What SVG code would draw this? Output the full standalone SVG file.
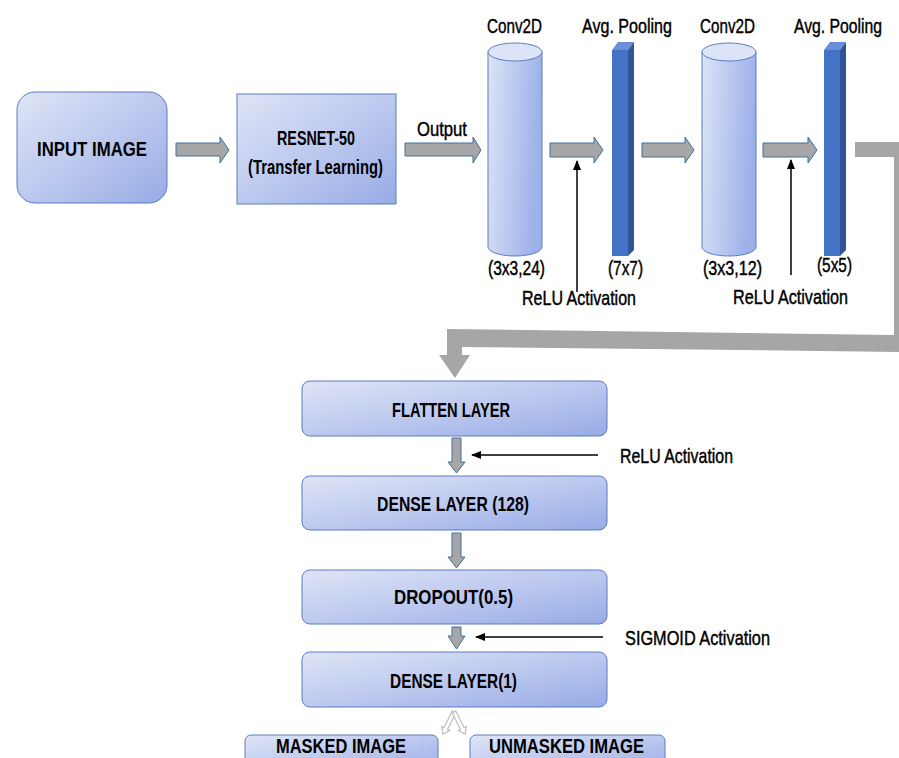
<svg xmlns="http://www.w3.org/2000/svg" width="899" height="758" viewBox="0 0 899 758">
<defs>
<linearGradient id="boxGrad" x1="0" y1="0" x2="1" y2="1">
<stop offset="0" stop-color="#dfe5f6"/>
<stop offset="0.5" stop-color="#bdc9ef"/>
<stop offset="1" stop-color="#97abe5"/>
</linearGradient>
<linearGradient id="cylGrad" x1="0" y1="0" x2="1" y2="0.2">
<stop offset="0" stop-color="#dde4f7"/>
<stop offset="1" stop-color="#9cb0e9"/>
</linearGradient>
<marker id="ah" markerUnits="userSpaceOnUse" markerWidth="10" markerHeight="8" refX="9" refY="4" orient="auto">
<path d="M0,0 L10,4 L0,8 Z" fill="#000"/>
</marker>
<style>
.box{fill:url(#boxGrad);stroke:#5b7cc2;stroke-width:1}
.cyl{fill:url(#cylGrad);stroke:#5b7cc2;stroke-width:1}
.cyltop{fill:#dde4f7;stroke:#5b7cc2;stroke-width:1}
.pf{fill:#4472c4}
.pt{fill:#6a8fd6}
.ps{fill:#2f5597}
.garr{fill:#a6a6a6;stroke:#41719c;stroke-width:1}
.big{fill:#a6a6a6}
.hol{fill:#fff;stroke:#bdbdbd;stroke-width:1.2}
.bl{stroke:#000;stroke-width:1.5;fill:none;marker-end:url(#ah)}
.lbl{font-family:"Liberation Sans",Arial,sans-serif;font-weight:bold;font-size:21px;fill:#000}
.ann{font-family:"Liberation Sans",Arial,sans-serif;font-size:21px;fill:#000;stroke:#000;stroke-width:0.45}
</style>
</defs>
<rect width="899" height="758" fill="#fff"/>

<g id="input-image">
<rect class="box" x="17" y="92" width="150" height="111" rx="18"/>
<text class="lbl" x="37" y="156" font-size="22" textLength="110" lengthAdjust="spacingAndGlyphs">INPUT IMAGE</text>
</g>

<g id="resnet">
<rect class="box" x="237" y="94" width="159" height="110"/>
<text class="lbl" x="277" y="145" font-size="20" textLength="78" lengthAdjust="spacingAndGlyphs">RESNET-50</text>
<text class="lbl" x="248" y="174" font-size="20" textLength="135" lengthAdjust="spacingAndGlyphs">(Transfer Learning)</text>
</g>

<g id="conv1">
<text class="ann" x="487" y="33" textLength="55" lengthAdjust="spacingAndGlyphs">Conv2D</text>
<path class="cyl" d="M488,52 L488,247 A27,9 0 0 0 542,247 L542,52 Z"/>
<ellipse class="cyltop" cx="515" cy="52" rx="27" ry="9"/>
<text class="ann" x="488" y="275" textLength="57" lengthAdjust="spacingAndGlyphs">(3x3,24)</text>
</g>

<g id="pool1">
<text class="ann" x="582" y="33" textLength="90" lengthAdjust="spacingAndGlyphs">Avg. Pooling</text>
<polygon class="pf" points="612,50 628,50 628,256 612,256"/>
<polygon class="pt" points="612,50 618,42 634,42 628,50"/>
<polygon class="ps" points="628,50 634,42 634,250 628,256"/>
<text class="ann" x="608" y="275" textLength="35" lengthAdjust="spacingAndGlyphs">(7x7)</text>
</g>

<g id="conv2">
<text class="ann" x="700" y="33" textLength="55" lengthAdjust="spacingAndGlyphs">Conv2D</text>
<path class="cyl" d="M702,52 L702,247 A27,9 0 0 0 756,247 L756,52 Z"/>
<ellipse class="cyltop" cx="729" cy="52" rx="27" ry="9"/>
<text class="ann" x="703" y="275" textLength="59" lengthAdjust="spacingAndGlyphs">(3x3,12)</text>
</g>

<g id="pool2">
<text class="ann" x="794" y="33" textLength="88" lengthAdjust="spacingAndGlyphs">Avg. Pooling</text>
<polygon class="pf" points="824,50 840,50 840,256 824,256"/>
<polygon class="pt" points="824,50 830,42 846,42 840,50"/>
<polygon class="ps" points="840,50 846,42 846,250 840,256"/>
<text class="ann" x="817" y="272" textLength="35" lengthAdjust="spacingAndGlyphs">(5x5)</text>
</g>

<g id="flatten">
<rect class="box" x="302" y="381" width="305" height="55" rx="8"/>
<text class="lbl" x="392" y="417" textLength="118" lengthAdjust="spacingAndGlyphs">FLATTEN LAYER</text>
</g>

<g id="dense128">
<rect class="box" x="302" y="476" width="305" height="54" rx="8"/>
<text class="lbl" x="377" y="511" textLength="152" lengthAdjust="spacingAndGlyphs">DENSE LAYER (128)</text>
</g>

<g id="dropout">
<rect class="box" x="302" y="570" width="305" height="54" rx="8"/>
<text class="lbl" x="394" y="604" textLength="119" lengthAdjust="spacingAndGlyphs">DROPOUT(0.5)</text>
</g>

<g id="dense1">
<rect class="box" x="302" y="652" width="305" height="55" rx="8"/>
<text class="lbl" x="390" y="688" textLength="127" lengthAdjust="spacingAndGlyphs">DENSE LAYER(1)</text>
</g>

<g id="masked">
<rect class="box" x="245" y="735" width="193" height="40" rx="6"/>
<text class="lbl" x="276" y="753" font-size="19" textLength="130" lengthAdjust="spacingAndGlyphs">MASKED IMAGE</text>
</g>

<g id="unmasked">
<rect class="box" x="470" y="735" width="195" height="40" rx="6"/>
<text class="lbl" x="489" y="753" font-size="19" textLength="155" lengthAdjust="spacingAndGlyphs">UNMASKED IMAGE</text>
</g>

<g id="connectors">
<path class="garr" d="M176,143 H220 V137 L229,150 L220,163 V156 H176 Z"/>
<text class="ann" x="417" y="136" textLength="50" lengthAdjust="spacingAndGlyphs">Output</text>
<path class="garr" d="M405,143 H473 V137 L481,150 L473,163 V156 H405 Z"/>
<path class="garr" d="M550,143 H594 V137 L603,150 L594,163 V157 H550 Z"/>
<path class="garr" d="M642,143 H685 V137 L694,150 L685,163 V157 H642 Z"/>
<path class="garr" d="M763,143 H808 V137 L817,150 L808,163 V157 H763 Z"/>
<path class="big" d="M855,142 L910,142 L910,352 L462,347 L462,355 L470,355 L455,378 L439,355 L447,355 L447,329 L894,335 L894,157 L855,157 Z"/>
<line class="bl" x1="577" y1="292" x2="577" y2="161"/>
<text class="ann" x="522" y="305" textLength="114" lengthAdjust="spacingAndGlyphs">ReLU Activation</text>
<line class="bl" x1="791" y1="275" x2="791" y2="160"/>
<text class="ann" x="733" y="304" textLength="115" lengthAdjust="spacingAndGlyphs">ReLU Activation</text>
<path class="garr" d="M452,438 H461 V462 H465 L456.5,473 L448,462 H452 Z"/>
<line class="bl" x1="598" y1="455" x2="472" y2="455"/>
<text class="ann" x="620" y="463" textLength="113" lengthAdjust="spacingAndGlyphs">ReLU Activation</text>
<path class="garr" d="M452,533 H461 V557 H465 L456.5,568 L448,557 H452 Z"/>
<path class="garr" d="M452,627 H461 V636 H465 L456.5,649 L448,636 H452 Z"/>
<line class="bl" x1="603" y1="637" x2="476" y2="637"/>
<text class="ann" x="625" y="645" textLength="145" lengthAdjust="spacingAndGlyphs">SIGMOID Activation</text>
<polygon class="hol" points="452.2,711.1 443.9,727.7 441.7,726.6 443,734 449.7,730.6 447.5,729.5 455.8,712.9"/>
<polygon class="hol" points="455.8,711.1 464.1,727.7 466.3,726.6 465,734 458.3,730.6 460.5,729.5 452.2,712.9"/>
</g>
</svg>
